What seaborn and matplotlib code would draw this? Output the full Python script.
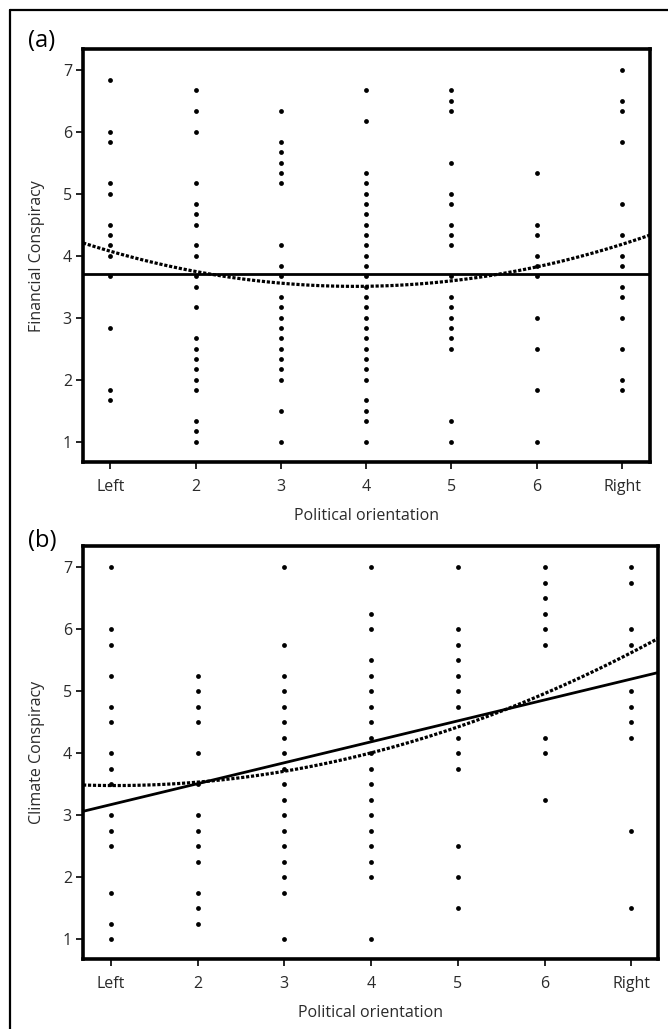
import matplotlib.pyplot as plt
import numpy as np
import pandas as pd
import seaborn as sns
from matplotlib.lines import Line2D

sns.set_style("ticks")
plt.rcParams["font.family"] = ["Open Sans", "DejaVu Sans"]

x_ticks = [1, 2, 3, 4, 5, 6, 7]
x_labels = ["Left", "2", "3", "4", "5", "6", "Right"]
y_ticks = [1, 2, 3, 4, 5, 6, 7]

# (a) financial conspiracy, distinct scores seen at each orientation
fin_1 = [6.83, 6.0, 5.83, 5.17, 5.0, 4.5, 4.33, 4.17, 4.0, 3.67, 2.83, 1.83, 1.67]
fin_2 = [6.67, 6.33, 6.0, 5.17, 4.83, 4.67, 4.5, 4.17, 4.0, 3.67, 3.5, 3.17,
         2.67, 2.5, 2.33, 2.17, 2.0, 1.83, 1.33, 1.17, 1.0]
fin_3 = [6.33, 5.83, 5.67, 5.5, 5.33, 5.17, 4.17, 3.83, 3.67, 3.33, 3.17, 3.0,
         2.83, 2.67, 2.5, 2.33, 2.17, 2.0, 1.5, 1.0]
fin_4 = [6.67, 6.17, 5.33, 5.17, 5.0, 4.83, 4.67, 4.5, 4.33, 4.17, 4.0, 3.83,
         3.67, 3.5, 3.33, 3.17, 3.0, 2.83, 2.67, 2.5, 2.33, 2.17, 2.0, 1.67,
         1.5, 1.33, 1.0]
fin_5 = [6.67, 6.5, 6.33, 5.5, 5.0, 4.83, 4.5, 4.33, 4.17, 3.67, 3.33, 3.17,
         3.0, 2.83, 2.67, 2.5, 1.33, 1.0]
fin_6 = [5.33, 4.5, 4.33, 4.0, 3.83, 3.67, 3.0, 2.5, 1.83, 1.0]
fin_7 = [7.0, 6.5, 6.33, 5.83, 4.83, 4.33, 4.0, 3.83, 3.5, 3.33, 3.0, 2.5,
         2.0, 1.83]

# fitted lines read at each orientation
fin_linear = [3.71, 3.71, 3.71, 3.71, 3.71, 3.71, 3.71]
fin_quadratic = [4.07, 3.75, 3.56, 3.50, 3.59, 3.83, 4.18]

# (b) climate conspiracy
cli_1 = [7.0, 6.0, 5.75, 5.25, 4.75, 4.5, 4.0, 3.75, 3.5, 3.0, 2.75, 2.5,
         1.75, 1.25, 1.0]
cli_2 = [5.25, 5.0, 4.75, 4.5, 4.0, 3.5, 3.0, 2.75, 2.5, 2.25, 1.75, 1.5, 1.25]
cli_3 = [7.0, 5.75, 5.25, 5.0, 4.75, 4.5, 4.25, 4.0, 3.75, 3.5, 3.25, 3.0,
         2.75, 2.5, 2.25, 2.0, 1.75, 1.0]
cli_4 = [7.0, 6.25, 6.0, 5.5, 5.25, 5.0, 4.75, 4.5, 4.25, 4.0, 3.75, 3.5,
         3.25, 3.0, 2.75, 2.5, 2.25, 2.0, 1.0]
cli_5 = [7.0, 6.0, 5.75, 5.5, 5.25, 5.0, 4.75, 4.25, 4.0, 3.75, 2.5, 2.0, 1.5]
cli_6 = [7.0, 6.75, 6.5, 6.25, 6.0, 5.75, 4.25, 4.0, 3.25]
cli_7 = [7.0, 6.75, 6.0, 5.75, 5.0, 4.75, 4.5, 4.25, 2.75, 1.5]

cli_linear = [3.17, 3.51, 3.85, 4.19, 4.52, 4.86, 5.20]
cli_quadratic = [3.48, 3.53, 3.72, 4.01, 4.42, 4.96, 5.63]


def to_frame(columns):
    rows = []
    for x, values in zip(x_ticks, columns):
        rows += [(x, v) for v in values]
    return pd.DataFrame(rows, columns=["orientation", "score"])


fin_df = to_frame([fin_1, fin_2, fin_3, fin_4, fin_5, fin_6, fin_7])
cli_df = to_frame([cli_1, cli_2, cli_3, cli_4, cli_5, cli_6, cli_7])

text_color = "#2a2a2a"
fig = plt.figure(figsize=(6.68, 10.29), dpi=100)

panels = [
    ([0.1243, 0.551, 0.849, 0.401], fin_df, fin_linear, fin_quadratic,
     "Financial Conspiracy", (0.68, 7.33), (0.67, 7.33), "(a)", 1 - 41 / 1029),
    ([0.1243, 0.068, 0.861, 0.401], cli_df, cli_linear, cli_quadratic,
     "Climate Conspiracy", (0.68, 7.31), (0.68, 7.34), "(b)", 1 - 541 / 1029),
]

for rect, df, lin, quad, ylabel, xlim, ylim, tag, tag_y in panels:
    ax = fig.add_axes(rect)
    ax.set_xlim(xlim)
    ax.set_ylim(ylim)
    sns.scatterplot(data=df, x="orientation", y="score", ax=ax, color="black",
                    s=12, linewidth=0, zorder=2)
    # solid line: linear fit, dotted line: quadratic fit
    sns.regplot(x=x_ticks, y=lin, order=1, scatter=False, ci=None,
                truncate=False, ax=ax,
                line_kws=dict(color="black", lw=2.0, zorder=3))
    sns.regplot(x=x_ticks, y=quad, order=2, scatter=False, ci=None,
                truncate=False, ax=ax,
                line_kws=dict(color="black", lw=2.3, linestyle=(0, (1.0, 0.55)),
                              zorder=3))
    ax.set_xlim(xlim)
    ax.set_ylim(ylim)
    ax.set_xticks(x_ticks)
    ax.set_xticklabels(x_labels)
    ax.set_yticks(y_ticks)
    ax.tick_params(axis="both", direction="out", length=5, width=1.2,
                   colors="black", labelcolor=text_color, labelsize=11.5)
    ax.tick_params(axis="x", pad=7)
    ax.tick_params(axis="y", pad=3)
    for spine in ax.spines.values():
        spine.set_visible(True)
        spine.set_linewidth(2.6)
        spine.set_color("black")
    ax.set_xlabel("Political orientation", fontsize=11.5, color=text_color,
                  labelpad=9.5)
    ax.set_ylabel(ylabel, fontsize=11.5, color=text_color, labelpad=13)
    fig.text(28 / 668, tag_y, tag, fontsize=17, color="black", va="center",
             ha="left")

# outer frame (left and top edges only)
fig.add_artist(Line2D([10 / 668, 10 / 668], [0, 1 - 10 / 1029],
                      color="black", lw=1.6, transform=fig.transFigure))
fig.add_artist(Line2D([10 / 668, 1], [1 - 10 / 1029, 1 - 10 / 1029],
                      color="black", lw=1.6, transform=fig.transFigure))

fig.savefig("out.png", dpi=100, facecolor="white")
